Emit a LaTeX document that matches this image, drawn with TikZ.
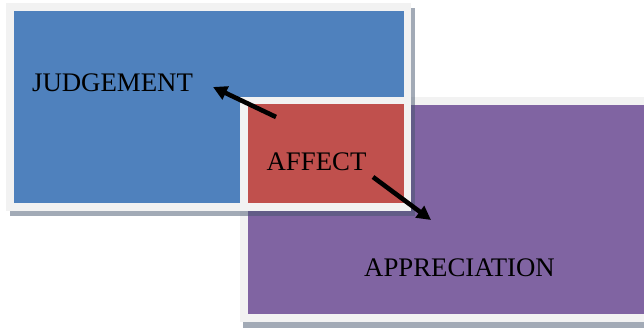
\documentclass[tikz,border=0pt]{standalone}
\usepackage{fontspec}
\setmainfont{Liberation Serif}
\usetikzlibrary{arrows.meta}
\definecolor{frameC}{HTML}{F2F2F2}
\definecolor{blueC}{HTML}{4F81BD}
\definecolor{redC}{HTML}{C0504D}
\definecolor{purpleC}{HTML}{8064A2}
\definecolor{shadowC}{RGB}{70,85,110}
\tikzset{
  framebox/.style={fill=frameC, draw=none},
  shadowbox/.style={fill=shadowC, fill opacity=0.5, draw=none},
  label/.style={font=\fontsize{26.8}{30}\selectfont, anchor=base, inner sep=0pt, text=black},
  bigarrow/.style={line width=4.6pt, -{Triangle[length=14pt,width=14pt]}, black},
}
\begin{document}
\begin{tikzpicture}[x=1pt,y=-1pt]
\useasboundingbox (0,0) rectangle (644,329);
% purple box
\fill[shadowbox] (243,102) rectangle (650,328);
\fill[framebox] (240,97) rectangle (650,322);
\fill[purpleC] (248,105) rectangle (650,314);
% blue box
\fill[shadowbox] (10,8) rectangle (415,216);
\fill[framebox] (6,3) rectangle (411,211);
\fill[blueC] (14,11) rectangle (404,203);
% red box
\fill[framebox] (240,97) rectangle (411,211);
\fill[redC] (248,104) rectangle (404,203);
% labels
\node[label] (judg) at (112.5,91) {JUDGEMENT};
\node[label] (aff) at (316.5,170) {AFFECT};
\node[label] (appr) at (459.5,276) {APPRECIATION};
% arrows
\coordinate (s1) at (276,117);
\coordinate (t1) at (213,87);
\coordinate (s2) at (373,177);
\coordinate (t2) at (431,220);
\draw[bigarrow] (s1) -- (t1);
\draw[bigarrow] (s2) -- (t2);
\end{tikzpicture}
\end{document}
